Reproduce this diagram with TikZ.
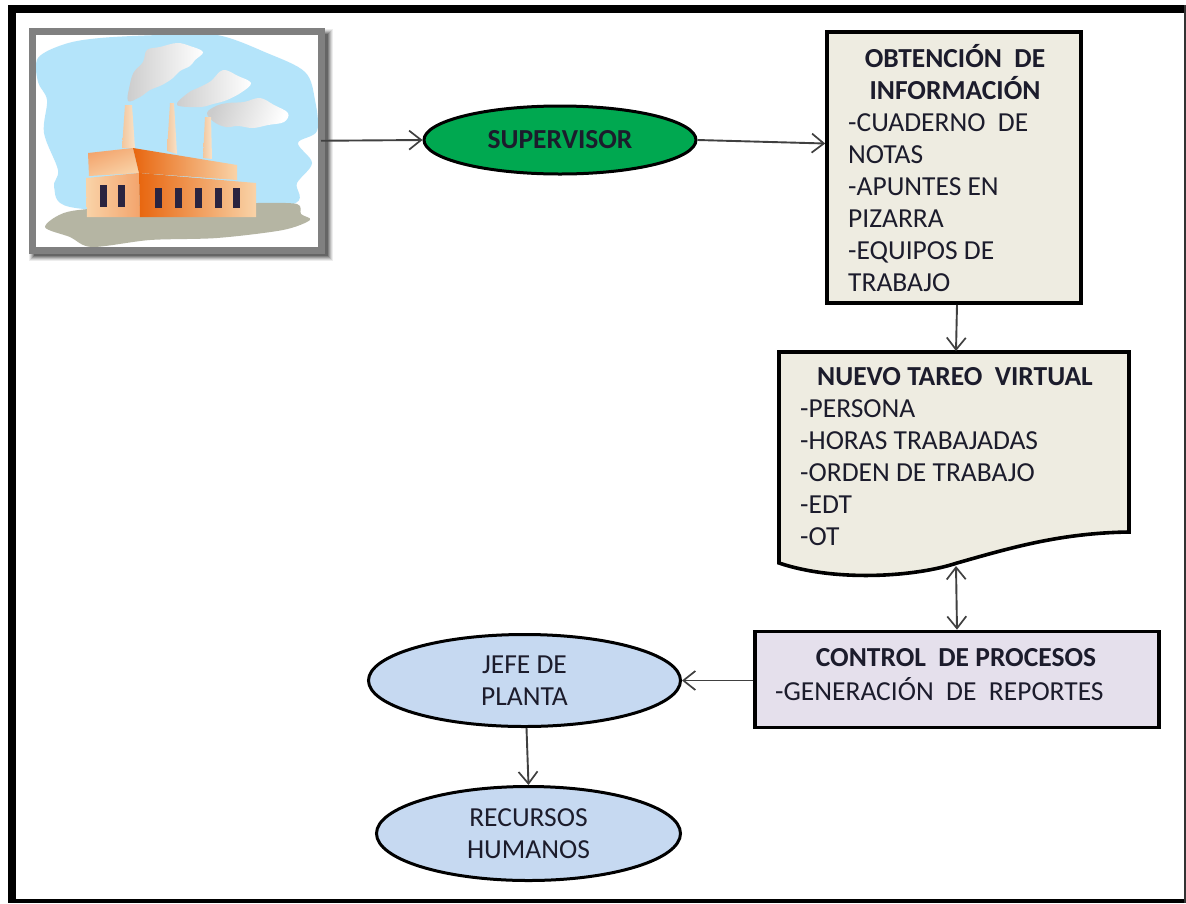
\documentclass[tikz,border=0pt]{standalone}
\usepackage{fontspec}
\setmainfont{Carlito}
\usetikzlibrary{shapes.geometric,arrows.meta,calc}
\definecolor{boxcream}{HTML}{EEECE1}
\definecolor{boxlilac}{HTML}{E5E0EC}
\definecolor{ovalblue}{HTML}{C6D9F1}
\definecolor{ovalgreen}{HTML}{00A850}
\definecolor{sky}{HTML}{B4E4FA}
\definecolor{ground}{HTML}{B5B5A3}
\definecolor{txt}{HTML}{1C1C2C}
\definecolor{framegrey}{HTML}{808080}
\definecolor{wallhot}{HTML}{E8660F}
\definecolor{wallpale}{HTML}{F9D3A8}
\definecolor{wallmid}{HTML}{F3A46C}
\definecolor{stack}{HTML}{F2C79E}
\definecolor{stackpale}{HTML}{F9E2C8}
\definecolor{pane}{HTML}{2A2440}
\tikzset{
  every node/.style={text=txt,font=\fontsize{27.5}{32}\selectfont},
  boxed/.style={draw=black,line width=3.6pt,rectangle,inner sep=0pt},
  oval/.style={ellipse,draw=black,line width=3pt,inner sep=0pt,align=center},
  listing/.style={anchor=north west,inner sep=0pt,align=left},
  headline/.style={inner sep=0pt,align=center,font=\fontsize{27.5}{32}\selectfont\bfseries},
  barb/.tip={Straight Barb[length=12pt,width=19pt,line width=1.7pt]},
  conn/.style={draw=black!75,line width=1.9pt,-barb},
  connboth/.style={draw=black!75,line width=1.9pt,barb-barb},
  smoke/.style={shading angle=50,left color=black!20,right color=white}
}
\begin{document}
\begin{tikzpicture}[x=1pt,y=-1pt]
\useasboundingbox (0,0) rectangle (1186,903);
\fill[white] (0,0) rectangle (1186,903);

% outer border, heavier on the top and left
\fill[black] (8,5) rectangle (1186,12.5);
\fill[black] (8,5) rectangle (15.5,903);
\fill[black] (8,899) rectangle (1186,903);
\fill[black!80] (1184,5) rectangle (1186,903);

% soft shadow behind the factory picture
\foreach \grow/\op in {5/0.07,4/0.09,3/0.12,2/0.15,1/0.18,0/0.22}
  \fill[black,opacity=\op] (34-\grow,34-\grow) rectangle (328+\grow,256+\grow);
\fill[white] (32,31) rectangle (321,250);

% sky
\fill[sky] plot[smooth cycle,tension=0.55] coordinates {
  (38,58) (65,44) (100,38) (160,35) (217,35) (267,53) (305,72) (315,100) (317,131)
  (298,143) (312,163) (297,183) (290,205) (170,212) (70,207) (54,187) (58,170)
  (44,133) (47,100) (38,82)};
% ground
\fill[ground] plot[smooth cycle,tension=0.5] coordinates {
  (45,227) (67,212) (120,207) (200,205) (257,203) (297,204) (301,214) (310,220)
  (283,230) (217,238) (150,240) (92,247) (70,237)};
% smoke plumes
\shade[smoke] plot[smooth cycle,tension=0.6] coordinates {
  (128,101) (130,84) (134,72) (143,62) (147,50) (160,47) (177,43) (190,46) (203,52)
  (195,60) (190,66) (180,71) (173,78) (162,85) (150,90) (140,97)};
\shade[smoke] plot[smooth cycle,tension=0.6] coordinates {
  (177,105) (188,93) (200,87) (211,81) (223,70) (238,76) (251,83) (242,92)
  (227,100) (213,104) (200,107)};
\shade[smoke,shading angle=70] plot[smooth cycle,tension=0.6] coordinates {
  (207,113) (216,106) (228,103) (244,102) (260,98) (274,105) (288,113) (284,122)
  (268,125) (253,128) (238,126) (226,127) (214,122)};
% chimneys
\shade[left color=stack,right color=stackpale] (125,105) -- (132,105) -- (135,148) -- (122,148) -- cycle;
\shade[left color=stack,right color=stackpale] (170,103) -- (174,103) -- (177,154) -- (167,151) -- cycle;
\shade[left color=stack,right color=stackpale] (205,117) -- (211,117) -- (212,159) -- (203,158) -- cycle;
% upper storey
\shade[left color=wallmid,right color=wallpale,shading angle=20] (88,153) -- (133,148) -- (139,173) -- (89,176) -- cycle;
\shade[left color=wallhot,right color=wallpale] (133,148) -- (237,165) -- (237,180) -- (139,173) -- cycle;
% lower storey
\shade[left color=wallpale,right color=wallmid] (86,178) -- (139,173) -- (140,217) -- (87,217) -- cycle;
\shade[left color=wallhot,right color=wallpale] (139,173) -- (256,183) -- (256,217) -- (140,217) -- cycle;
% windows
\foreach \wx in {103,121} \fill[pane] (\wx-3.5,185) rectangle (\wx+3.5,207);
\foreach \wx in {158,178,198,218,236} \fill[pane] (\wx-3.5,188) rectangle (\wx+3.5,208);

% picture frame
\node[draw=framegrey,line width=7pt,rectangle,inner sep=0pt,outer sep=0pt,minimum width=289pt,minimum height=219pt] (fac) at (176.5,140.75) {};

% main nodes
\node[oval,fill=ovalgreen,minimum width=272pt,minimum height=68pt] (sup) at (560,140) {\textbf{SUPERVISOR}};

\node[boxed,fill=boxcream,minimum width=254pt,minimum height=271pt] (obtbox) at (954,167.5) {};
\node[headline] (obthead) at (955,72) {OBTENCIÓN\ \ DE\\INFORMACIÓN};
\node[listing] (obtlist) at (848,113) {-CUADERNO\ \ DE\\NOTAS\\-APUNTES EN\\PIZARRA\\-EQUIPOS DE\\TRABAJO};

% document shape with a wavy lower edge
\draw[draw=black,line width=3.6pt,fill=boxcream] (779,352) -- (1129,352) -- (1129,532)
  .. controls (1060,533) and (1010,548) .. (957,563)
  .. controls (915,577) and (835,582) .. (779,563) -- cycle;
\coordinate (doctop) at (956,351);
\coordinate (docbot) at (956,566);
\node[headline] (newhead) at (955,377) {NUEVO TAREO\ \ VIRTUAL};
\node[listing] (newlist) at (800,399) {-PERSONA\\-HORAS TRABAJADAS\\-ORDEN DE TRABAJO\\-EDT\\-OT};

\node[boxed,fill=boxlilac,minimum width=404pt,minimum height=96pt] (ctrl) at (957,679.5) {};
\node[headline] (ctrlhead) at (956,658) {CONTROL\ \ DE PROCESOS};
\node[listing] (ctrllist) at (775,677) {-GENERACIÓN\ \ DE\ \ REPORTES};

\node[oval,fill=ovalblue,minimum width=312pt,minimum height=92pt] (jefe) at (524.5,680.5) {JEFE DE\\PLANTA};
\node[oval,fill=ovalblue,minimum width=304pt,minimum height=94pt] (rrhh) at (528.5,833.5) {RECURSOS\\HUMANOS};

% connectors
\draw[conn] (fac.east) -- (sup.west);
\draw[conn] (sup.east) -- ([yshift=24pt]obtbox.west);
\draw[conn] (obtbox.south) ++(3,0) -- (doctop);
\draw[connboth] (docbot) -- (ctrl.north);
\draw[conn] (ctrl.west) ++(0,1) -- (jefe.east);
\draw[conn] (jefe.south) ++(2,0) -- (rrhh.north);
\end{tikzpicture}
\end{document}
